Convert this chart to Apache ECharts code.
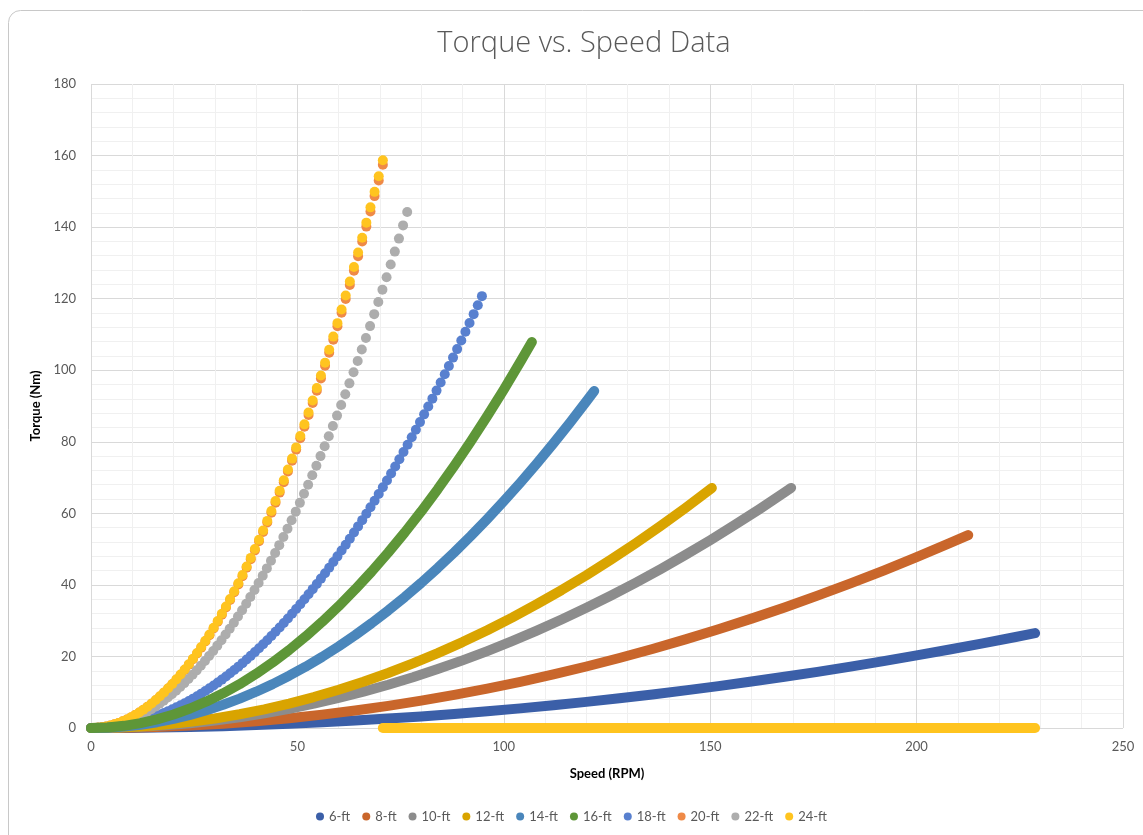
<!DOCTYPE html>
<html>
<head>
<meta charset="utf-8">
<script src="https://cdn.jsdelivr.net/npm/echarts@6/dist/echarts.min.js"></script>
<style>
html,body{margin:0;padding:0;background:#fff;}
#chart{width:1143px;height:835px;}
</style>
</head>
<body>
<div id="chart"></div>
<script>
// ---- Data (speed in RPM, torque in Nm) ----
const seriesNames = ['6-ft','8-ft','10-ft','12-ft','14-ft','16-ft','18-ft','20-ft','22-ft','24-ft'];

const speed6  = [0,8,16,24,32,40,48,56,64,72,80,88,96,104,112,120,128,136,144,152,160,168,176,184,192,200,208,216,224,228.7];
const torque6 = [0,0.03,0.13,0.29,0.52,0.81,1.17,1.59,2.08,2.63,3.24,3.93,4.67,5.48,6.36,7.30,8.31,9.38,10.51,11.71,12.98,14.31,15.70,17.16,18.69,20.28,21.93,23.65,25.44,26.52];

const speed8  = [0,8,16,24,32,40,48,56,64,72,80,88,96,104,112,120,128,136,144,152,160,168,176,184,192,200,208,212.5];
const torque8 = [0,0.08,0.31,0.69,1.22,1.91,2.75,3.74,4.89,6.19,7.64,9.25,11.00,12.91,14.98,17.19,19.56,22.08,24.76,27.59,30.57,33.70,36.99,40.42,44.01,47.76,51.66,53.92];

const speed10  = [0,6,12,18,24,30,36,42,48,54,60,66,72,78,84,90,96,102,108,114,120,126,132,138,144,150,156,162,168,169.6];
const torque10 = [0,0.08,0.34,0.76,1.34,2.10,3.02,4.12,5.38,6.80,8.40,10.16,12.09,14.19,16.46,18.90,21.50,24.27,27.21,30.32,33.60,37.04,40.65,44.43,48.38,52.49,56.78,61.23,65.85,67.11];

const speed12  = [0,6,12,18,24,30,36,42,48,54,60,66,72,78,84,90,96,102,108,114,120,126,132,138,144,150,150.4];
const torque12 = [0,0.11,0.43,0.96,1.71,2.67,3.84,5.23,6.83,8.65,10.68,12.92,15.38,18.05,20.93,24.02,27.33,30.86,34.60,38.55,42.71,47.09,51.68,56.48,61.50,66.74,67.09];

const speed14  = [0,4,8,12,16,20,24,28,32,36,40,44,48,52,56,60,64,68,72,76,80,84,88,92,96,100,104,108,112,116,120,121.9];
const torque14 = [0,0.10,0.41,0.91,1.62,2.54,3.65,4.97,6.49,8.22,10.14,12.27,14.61,17.14,19.88,22.82,25.96,29.31,32.86,36.61,40.57,44.73,49.09,53.65,58.42,63.39,68.56,73.94,79.52,85.30,91.28,94.20];

const speed16  = [0,4,8,12,16,20,24,28,32,36,40,44,48,52,56,60,64,68,72,76,80,84,88,92,96,100,104,106.8];
const torque16 = [0,0.15,0.61,1.36,2.42,3.78,5.45,7.42,9.69,12.26,15.14,18.31,21.80,25.58,29.67,34.06,38.75,43.74,49.04,54.64,60.54,66.75,73.26,80.07,87.18,94.60,102.32,107.90];

const speed18 = [0.7,1.7,2.7,3.7,4.7,5.7,6.7,7.7,8.7,9.7,10.7,11.7,12.7,13.7,14.7,15.7,16.7,17.7,18.7,19.7,20.7,21.7,22.7,23.7,24.7,25.7,26.7,27.7,28.7,29.7,30.7,31.7,32.7,33.7,34.7,35.7,36.7,37.7,38.7,39.7,40.7,41.7,42.7,43.7,44.7,45.7,46.7,47.7,48.7,49.7,50.7,51.7,52.7,53.7,54.7,55.7,56.7,57.7,58.7,59.7,60.7,61.7,62.7,63.7,64.7,65.7,66.7,67.7,68.7,69.7,70.7,71.7,72.7,73.7,74.7,75.7,76.7,77.7,78.7,79.7,80.7,81.7,82.7,83.7,84.7,85.7,86.7,87.7,88.7,89.7,90.7,91.7,92.7,93.7,94.7];
const torque18 = [0.01,0.04,0.10,0.18,0.30,0.44,0.60,0.80,1.02,1.27,1.54,1.84,2.17,2.53,2.91,3.32,3.75,4.22,4.71,5.22,5.77,6.34,6.94,7.56,8.21,8.89,9.60,10.33,11.09,11.87,12.69,13.53,14.39,15.29,16.21,17.15,18.13,19.13,20.16,21.21,22.30,23.41,24.54,25.70,26.89,28.11,29.35,30.63,31.92,33.25,34.60,35.98,37.38,38.81,40.27,41.76,43.27,44.81,46.38,47.97,49.59,51.24,52.91,54.62,56.35,58.10,59.88,61.69,63.53,65.39,67.28,69.20,71.14,73.11,75.11,77.13,79.18,81.26,83.37,85.50,87.66,89.85,92.06,94.30,96.56,98.86,101.18,103.53,105.90,108.30,110.73,113.18,115.67,118.17,120.71];

const speed20 = [0.7,1.7,2.7,3.7,4.7,5.7,6.7,7.7,8.7,9.7,10.7,11.7,12.7,13.7,14.7,15.7,16.7,17.7,18.7,19.7,20.7,21.7,22.7,23.7,24.7,25.7,26.7,27.7,28.7,29.7,30.7,31.7,32.7,33.7,34.7,35.7,36.7,37.7,38.7,39.7,40.7,41.7,42.7,43.7,44.7,45.7,46.7,47.7,48.7,49.7,50.7,51.7,52.7,53.7,54.7,55.7,56.7,57.7,58.7,59.7,60.7,61.7,62.7,63.7,64.7,65.7,66.7,67.7,68.7,69.7,70.7];
const torque20 = [0.02,0.09,0.23,0.43,0.70,1.02,1.41,1.87,2.38,2.96,3.61,4.31,5.08,5.91,6.81,7.76,8.78,9.87,11.01,12.22,13.49,14.83,16.23,17.69,19.22,20.81,22.45,24.17,25.94,27.79,29.68,31.66,33.68,35.78,37.93,40.14,42.42,44.77,47.18,49.65,52.18,54.78,57.43,60.15,62.94,65.79,68.70,71.67,74.71,77.81,80.97,84.20,87.49,90.84,94.25,97.72,101.27,104.87,108.54,112.27,116.06,119.92,123.84,127.82,131.86,135.97,140.14,144.37,148.67,153.03,157.45];

const speed22 = [0.6,1.6,2.6,3.6,4.6,5.6,6.6,7.6,8.6,9.6,10.6,11.6,12.6,13.6,14.6,15.6,16.6,17.6,18.6,19.6,20.6,21.6,22.6,23.6,24.6,25.6,26.6,27.6,28.6,29.6,30.6,31.6,32.6,33.6,34.6,35.6,36.6,37.6,38.6,39.6,40.6,41.6,42.6,43.6,44.6,45.6,46.6,47.6,48.6,49.6,50.6,51.6,52.6,53.6,54.6,55.6,56.6,57.6,58.6,59.6,60.6,61.6,62.6,63.6,64.6,65.6,66.6,67.6,68.6,69.6,70.6,71.6,72.6,73.6,74.6,75.6,76.6];
const torque22 = [0.01,0.06,0.17,0.32,0.52,0.77,1.07,1.42,1.82,2.27,2.76,3.31,3.90,4.55,5.24,5.98,6.77,7.61,8.50,9.44,10.43,11.47,12.55,13.69,14.87,16.11,17.39,18.72,20.11,21.54,23.02,24.54,26.12,27.75,29.43,31.15,32.93,34.75,36.62,38.55,40.52,42.54,44.61,46.73,48.89,51.11,53.38,55.69,58.06,60.47,62.93,65.45,68.01,70.62,73.28,75.99,78.74,81.55,84.41,87.31,90.27,93.27,96.33,99.43,102.58,105.78,109.03,112.33,115.67,119.07,122.52,126.01,129.56,133.15,136.79,140.48,144.22];

const speed24 = [0.7,1.7,2.7,3.7,4.7,5.7,6.7,7.7,8.7,9.7,10.7,11.7,12.7,13.7,14.7,15.7,16.7,17.7,18.7,19.7,20.7,21.7,22.7,23.7,24.7,25.7,26.7,27.7,28.7,29.7,30.7,31.7,32.7,33.7,34.7,35.7,36.7,37.7,38.7,39.7,40.7,41.7,42.7,43.7,44.7,45.7,46.7,47.7,48.7,49.7,50.7,51.7,52.7,53.7,54.7,55.7,56.7,57.7,58.7,59.7,60.7,61.7,62.7,63.7,64.7,65.7,66.7,67.7,68.7,69.7,70.7];
const torque24 = [0.02,0.09,0.23,0.43,0.70,1.03,1.43,1.88,2.40,2.99,3.64,4.35,5.12,5.96,6.86,7.83,8.85,9.95,11.10,12.32,13.60,14.95,16.36,17.83,19.37,20.97,22.63,24.36,26.15,28.01,29.92,31.91,33.95,36.06,38.23,40.46,42.76,45.13,47.55,50.04,52.59,55.21,57.89,60.63,63.44,66.31,69.24,72.24,75.30,78.43,81.61,84.87,88.18,91.56,95.00,98.50,102.07,105.70,109.40,113.16,116.98,120.87,124.82,128.83,132.91,137.05,141.25,145.52,149.85,154.24,158.70];

// zero-torque rows of the 24-ft column
const speed24Tail  = [70.7, 100, 150, 200, 228.7];
const torque24Tail = [0, 0, 0, 0, 0];

const xTicks = [0, 50, 100, 150, 200, 250];
const yTicks = [0, 20, 40, 60, 80, 100, 120, 140, 160, 180];

// ---- Styling ----
const colors = ['#3B5FA8','#C9662B','#8C8C8C','#D9A400','#4A86BB','#5E9638','#5880CF','#EF8A47','#ADADAD','#FFC41F'];

function pairs(xs, ys){ return xs.map((x,i)=>[x, ys[i]]); }

const rows = [
  ['6-ft', speed6, torque6, false],
  ['8-ft', speed8, torque8, false],
  ['10-ft', speed10, torque10, false],
  ['12-ft', speed12, torque12, false],
  ['14-ft', speed14, torque14, false],
  ['16-ft', speed16, torque16, false],
  ['18-ft', speed18, torque18, true],
  ['20-ft', speed20, torque20, true],
  ['22-ft', speed22, torque22, true],
  ['24-ft', speed24, torque24, true],
  ['24-ft', speed24Tail, torque24Tail, false]
];

const series = rows.map(([name, xs, ys, isDots]) => {
  const c = colors[seriesNames.indexOf(name)];
  if (isDots) {
    return {
      name: name, type: 'scatter', data: pairs(xs, ys),
      symbol: 'circle', symbolSize: 10,
      itemStyle: {color: c, opacity: 1, borderWidth: 0},
      emphasis: {disabled: true}, silent: true, animation: false
    };
  }
  return {
    name: name, type: 'line', data: pairs(xs, ys),
    symbol: 'circle', symbolSize: 10, showSymbol: false,
    itemStyle: {color: c, borderWidth: 0},
    lineStyle: {color: c, width: 10, cap: 'round', join: 'round'},
    emphasis: {disabled: true}, silent: true, animation: false
  };
});

const chart = echarts.init(document.getElementById('chart'), null, {renderer: 'canvas'});
chart.setOption({
  backgroundColor: '#ffffff',
  animation: false,
  color: colors,
  title: {
    text: 'Torque vs. Speed Data',
    left: 579, top: 24, textAlign: 'center',
    textStyle: {fontFamily: 'Open Sans', fontSize: 29, fontWeight: 300, color: '#595959'}
  },
  graphic: [{
    type: 'rect', silent: true, z: -10,
    shape: {x: 8.5, y: 10.5, width: 1160, height: 840, r: 12},
    style: {fill: 'none', stroke: '#c8c8c8', lineWidth: 1}
  }],
  legend: {
    data: seriesNames,
    top: 805,
    left: 'center',
    icon: 'circle',
    itemWidth: 8, itemHeight: 8,
    itemGap: 12,
    textStyle: {fontFamily: 'Lato', fontSize: 13, color: '#595959'}
  },
  grid: {left: 91, right: 20, top: 84, bottom: 107, containLabel: false},
  xAxis: {
    type: 'value', min: xTicks[0], max: xTicks[xTicks.length-1], interval: 50,
    name: 'Speed (RPM)', nameLocation: 'middle', nameGap: 39,
    nameTextStyle: {fontFamily: 'Lato', fontSize: 13, fontWeight: 'bold', color: '#000'},
    axisLine: {show: false}, axisTick: {show: false},
    axisLabel: {fontFamily: 'Lato', fontSize: 13, color: '#595959', margin: 12},
    splitLine: {show: true, lineStyle: {color: '#d9d9d9', width: 1}},
    minorTick: {show: false, splitNumber: 5},
    minorSplitLine: {show: true, lineStyle: {color: '#f0f0f0', width: 1}}
  },
  yAxis: {
    type: 'value', min: yTicks[0], max: yTicks[yTicks.length-1], interval: 20,
    name: 'Torque (Nm)', nameLocation: 'middle', nameGap: 36, nameRotate: 90,
    nameTextStyle: {fontFamily: 'Lato', fontSize: 13, fontWeight: 'bold', color: '#000'},
    axisLine: {show: false}, axisTick: {show: false},
    axisLabel: {fontFamily: 'Lato', fontSize: 13, color: '#595959', margin: 15},
    splitLine: {show: true, lineStyle: {color: '#d9d9d9', width: 1}},
    minorTick: {show: false, splitNumber: 5},
    minorSplitLine: {show: true, lineStyle: {color: '#f0f0f0', width: 1}}
  },
  series: series
});
</script>
</body>
</html>
